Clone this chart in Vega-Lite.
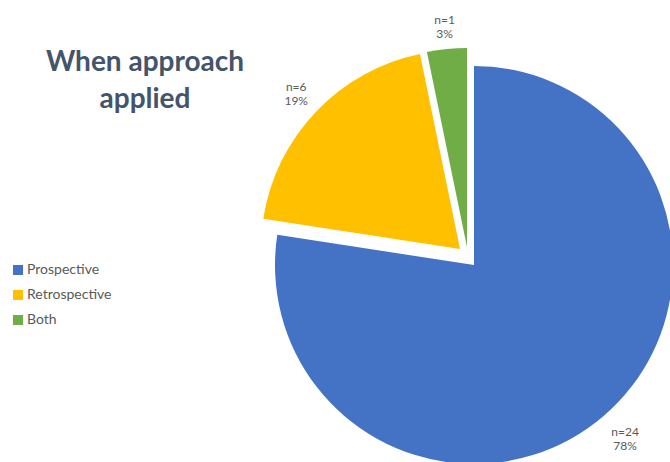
{
  "$schema": "https://vega.github.io/schema/vega-lite/v6.json",
  "width": 392,
  "height": 394,
  "autosize": {"type": "none"},
  "padding": {"left": 278, "top": 68, "right": 0, "bottom": 0},
  "background": "white",
  "title": {
    "text": ["When approach", "applied"],
    "anchor": "start",
    "frame": "group",
    "orient": "top",
    "align": "center",
    "baseline": "top",
    "offset": 0,
    "dx": -133,
    "dy": 102,
    "lineHeight": 37,
    "font": "Lato",
    "fontSize": 28,
    "fontWeight": "bold",
    "color": "#44546A"
  },
  "data": {
    "values": [
      {"cat": "Prospective", "n": 24, "order": 1, "label": "n=24\n78%"},
      {"cat": "Retrospective", "n": 6, "order": 2, "label": "n=6\n19%"},
      {"cat": "Both", "n": 1, "order": 3, "label": "n=1\n3%"}
    ]
  },
  "encoding": {
    "theta": {"field": "n", "type": "quantitative", "stack": true},
    "order": {"field": "order", "type": "quantitative"}
  },
  "layer": [
    {
      "mark": {"type": "arc", "outerRadius": 199},
      "encoding": {
        "color": {
          "field": "cat", "type": "nominal",
          "scale": {"domain": ["Prospective", "Retrospective", "Both"], "range": ["#4472C4", "#FFC000", "#70AD47"]},
          "legend": {
            "orient": "none", "legendX": -267, "legendY": 195, "title": null,
            "symbolType": "square", "symbolSize": 100, "symbolStrokeWidth": 0,
            "labelFont": "Lato", "labelFontSize": 14, "labelColor": "#595959",
            "labelOffset": 2, "rowPadding": 11, "padding": 0
          }
        },
        "opacity": {"condition": {"test": "datum.cat === 'Prospective'", "value": 1}, "value": 0}
      }
    },
    {
      "mark": {"type": "arc", "outerRadius": 199, "xOffset": -14, "yOffset": -16},
      "encoding": {
        "color": {"field": "cat", "type": "nominal"},
        "opacity": {"condition": {"test": "datum.cat === 'Retrospective'", "value": 1}, "value": 0}
      }
    },
    {
      "mark": {"type": "arc", "outerRadius": 199, "xOffset": -7, "yOffset": -18},
      "encoding": {
        "color": {"field": "cat", "type": "nominal"},
        "opacity": {"condition": {"test": "datum.cat === 'Both'", "value": 1}, "value": 0}
      }
    },
    {
      "mark": {"type": "text", "radius": 232, "yOffset": -9, "font": "Lato", "fontSize": 12, "color": "#595959", "lineBreak": "\n", "lineHeight": 14},
      "encoding": {
        "text": {"condition": {"test": "datum.cat === 'Prospective'", "field": "label"}, "value": ""}
      }
    },
    {
      "mark": {"type": "text", "radius": 226, "xOffset": -14, "yOffset": -22, "font": "Lato", "fontSize": 12, "color": "#595959", "lineBreak": "\n", "lineHeight": 14},
      "encoding": {
        "text": {"condition": {"test": "datum.cat === 'Retrospective'", "field": "label"}, "value": ""}
      }
    },
    {
      "mark": {"type": "text", "radius": 222, "xOffset": -7, "yOffset": -24, "font": "Lato", "fontSize": 12, "color": "#595959", "lineBreak": "\n", "lineHeight": 14},
      "encoding": {
        "text": {"condition": {"test": "datum.cat === 'Both'", "field": "label"}, "value": ""}
      }
    }
  ]
}
